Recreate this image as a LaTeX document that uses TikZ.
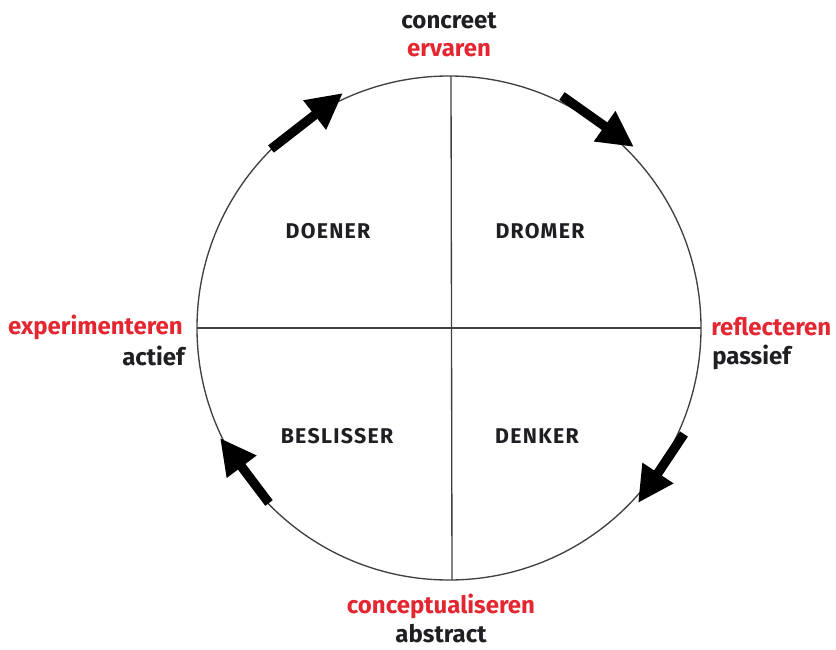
\documentclass[tikz,border=0pt]{standalone}
\usepackage{fontspec}
\setmainfont{Fira Sans}
\newfontfamily\quadfont[LetterSpace=6]{Fira Sans}
\usetikzlibrary{arrows.meta}
\definecolor{kred}{RGB}{228,38,48}
\definecolor{kblack}{RGB}{30,30,35}
\tikzset{
  lbl/.style={font=\fontsize{18}{20}\selectfont\bfseries, text=kblack, inner sep=0pt},
  redlbl/.style={font=\fontsize{18}{20}\selectfont\bfseries, text=kred, inner sep=0pt},
  quad/.style={font=\quadfont\fontsize{16}{18}\selectfont\bfseries, text=kblack, inner sep=0pt},
  thin/.style={line width=1pt, draw=kblack!85},
  cyc/.style={line width=7pt, draw=black, -{Triangle[length=27pt,width=26pt]}, shorten >=0pt},
}
\begin{document}
\begin{tikzpicture}[x=0.75pt,y=-0.75pt]
\useasboundingbox (0,0) rectangle (836,650);
\fill[white] (0,0) rectangle (836,650);
% circle and axes
\coordinate (c) at (449,328);
\draw[thin] (c) circle[radius=252*0.75pt];
\coordinate (top) at (451,76);
\coordinate (bot) at (452,580);
\coordinate (lft) at (197,328);
\coordinate (rgt) at (701,328);
\draw[thin] (top) -- (bot);
\draw[thin] (lft) -- (rgt);
% quadrant labels
\node[quad] (doener) at (328,231) {DOENER};
\node[quad] (dromer) at (540,231) {DROMER};
\node[quad] (beslisser) at (337,436) {BESLISSER};
\node[quad] (denker) at (537,436) {DENKER};
% axis labels
\node[lbl] (concreet) at (449,21) {concreet};
\node[redlbl] (ervaren) at (449,50) {ervaren};
\node[redlbl, anchor=east] (exp) at (183,327) {experimenteren};
\node[lbl, anchor=east] (actief) at (185,356) {actief};
\node[redlbl, anchor=west] (refl) at (711,327) {reflecteren};
\node[lbl, anchor=west] (passief) at (712,357) {passief};
\node[redlbl] (concept) at (441,606) {conceptualiseren};
\node[lbl] (abstract) at (441,634) {abstract};
% cycle arrows
\coordinate (a1s) at (271,149); \coordinate (a1e) at (343,93);
\coordinate (a2s) at (562,96);  \coordinate (a2e) at (634,147);
\coordinate (a3s) at (684,434); \coordinate (a3e) at (638,503);
\coordinate (a4s) at (269,503); \coordinate (a4e) at (220,438);
\draw[cyc] (a1s) -- (a1e);
\draw[cyc] (a2s) -- (a2e);
\draw[cyc] (a3s) -- (a3e);
\draw[cyc] (a4s) -- (a4e);
\end{tikzpicture}
\end{document}
